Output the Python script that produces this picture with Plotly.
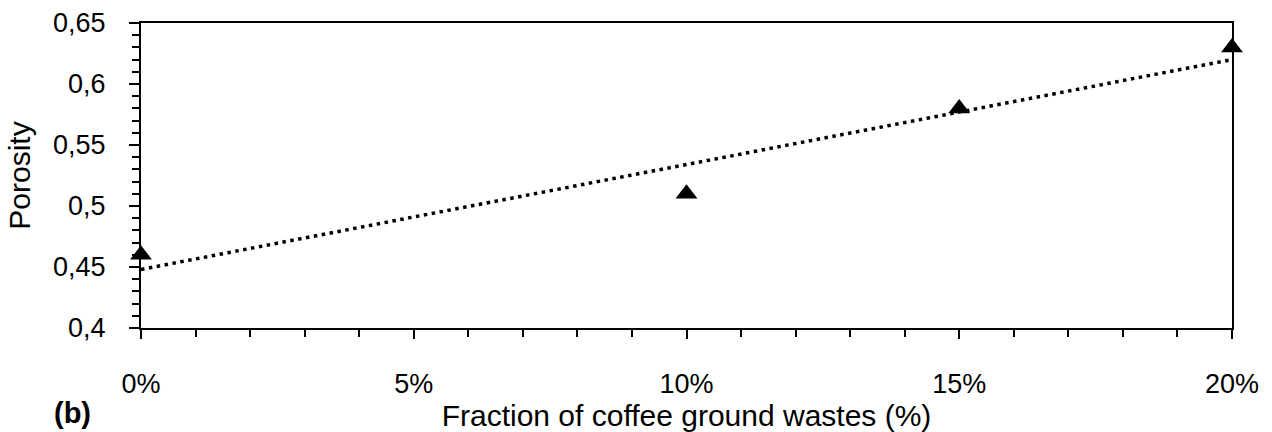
import plotly.graph_objects as go

fraction = [0, 10, 15, 20]
porosity = [0.46, 0.51, 0.58, 0.63]
trend_x = [0, 20]
trend_y = [0.448, 0.62]
x_ticks = [0, 5, 10, 15, 20]
x_ticktext = ["0%", "5%", "10%", "15%", "20%"]
y_ticks = [0.4, 0.45, 0.5, 0.55, 0.6, 0.65]
y_ticktext = ["0,4", "0,45", "0,5", "0,55", "0,6", "0,65"]

FONT = "Liberation Sans"

fig = go.Figure()
fig.add_trace(go.Scatter(
    x=trend_x, y=trend_y, mode="lines",
    line=dict(color="black", width=3.5, dash="3.5px,4.5px"),
    showlegend=False, hoverinfo="skip",
))
fig.add_trace(go.Scatter(
    x=fraction, y=porosity, mode="markers",
    marker=dict(symbol="triangle-up", size=19, color="black"),
    showlegend=False, cliponaxis=False,
))

fig.update_layout(
    width=1272, height=432,
    margin=dict(l=141, r=40, t=23, b=104, autoexpand=False),
    paper_bgcolor="white", plot_bgcolor="white",
    font=dict(family=FONT, color="black", size=27),
    xaxis=dict(
        range=[0, 20], showgrid=False, zeroline=False, automargin=False,
        showline=True, linecolor="black", linewidth=2, mirror=True,
        tickmode="array", tickvals=x_ticks, ticktext=x_ticktext,
        ticks="outside", ticklen=9, tickwidth=2, tickcolor="black",
        ticklabelstandoff=22,
        tickfont=dict(size=27),
        minor=dict(dtick=1, ticks="outside", ticklen=7, tickwidth=2, tickcolor="black", showgrid=False),
        title=dict(text="Fraction of coffee ground wastes (%)", font=dict(size=30), standoff=0),
    ),
    yaxis=dict(
        range=[0.4, 0.65], showgrid=False, zeroline=False, automargin=False,
        showline=True, linecolor="black", linewidth=2, mirror=True,
        tickmode="array", tickvals=y_ticks, ticktext=y_ticktext,
        ticks="outside", ticklen=10, tickwidth=2, tickcolor="black",
        ticklabelstandoff=18,
        tickfont=dict(size=27),
        minor=dict(dtick=0.01, tick0=0.4, ticks="outside", ticklen=7, tickwidth=2, tickcolor="black", showgrid=False),
        title=dict(text="Porosity", font=dict(size=30), standoff=14),
    ),
    annotations=[dict(
        text="<b>(b)</b>", xref="paper", yref="paper", x=-0.082, y=-0.28,
        xanchor="left", yanchor="middle", showarrow=False, font=dict(size=29),
    )],
)

fig.write_html("out.html")
